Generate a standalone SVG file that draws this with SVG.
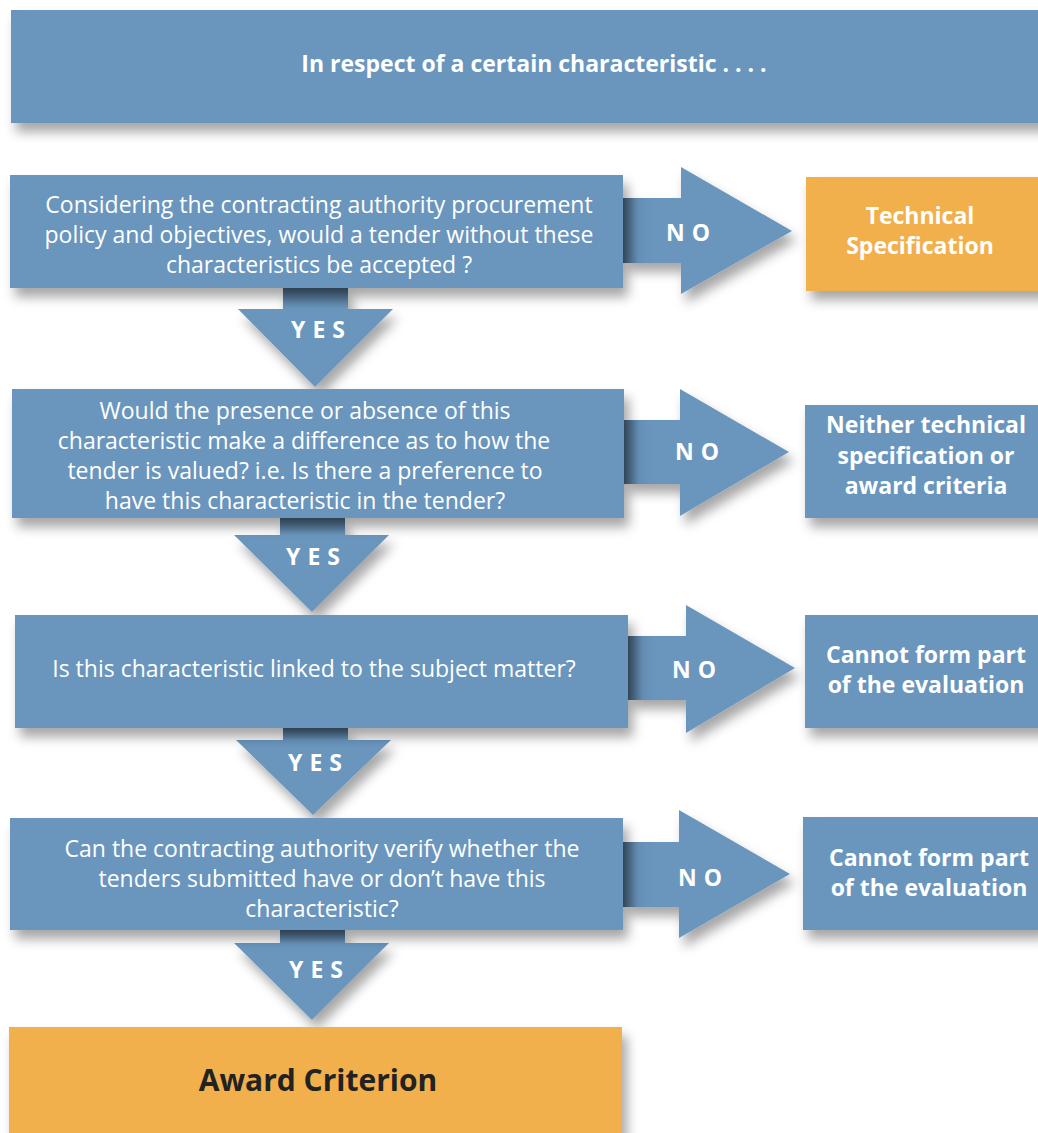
<svg xmlns="http://www.w3.org/2000/svg" width="1038" height="1133" viewBox="0 0 1038 1133">
<defs>
<filter id="sh" x="-10%" y="-20%" width="130%" height="150%">
<feDropShadow dx="5" dy="9" stdDeviation="6" flood-color="#000" flood-opacity="0.35"/>
</filter>
<style>
.b{fill:#6A96BE}
.o{fill:#F1B04C}
.q{font-family:"Open Sans","Liberation Sans",sans-serif;font-size:23px;fill:#fff;text-anchor:middle}
.r{font-family:"Open Sans","Liberation Sans",sans-serif;font-size:23px;font-weight:bold;fill:#fff;text-anchor:middle}
.l{font-family:"Open Sans","Liberation Sans",sans-serif;font-size:23px;font-weight:bold;fill:#fff;text-anchor:middle;letter-spacing:7px}
</style>
<linearGradient id="sx" x1="0" y1="0" x2="1" y2="0">
<stop offset="0" stop-color="#000" stop-opacity="0.35"/>
<stop offset="0.5" stop-color="#000" stop-opacity="0.05"/>
<stop offset="1" stop-color="#000" stop-opacity="0"/>
</linearGradient>
<linearGradient id="sy" x1="0" y1="0" x2="0" y2="1">
<stop offset="0" stop-color="#000" stop-opacity="0.35"/>
<stop offset="1" stop-color="#000" stop-opacity="0"/>
</linearGradient>
</defs>
<rect width="1038" height="1133" fill="#fff"/>

<g id="connectors">
<g filter="url(#sh)">
<path class="b" d="M623 198H681V167L792 231L681 294V263H623Z"/>
<path class="b" d="M624 420H680V389L789 452L680 516V484H624Z"/>
<path class="b" d="M628 636H686V605L795 668L686 733V700H628Z"/>
<path class="b" d="M623 842H679V810L790 874L679 938V907H623Z"/>
<path class="b" d="M283 288V309H238L315 387L393 309H348V288Z"/>
<path class="b" d="M280 518V535H234L312 612L389 535H345V518Z"/>
<path class="b" d="M283 728V740H236L313 815L391 740H348V728Z"/>
<path class="b" d="M280 930V943H234L312 1020L389 943H345V930Z"/>
</g>
<rect x="623" y="198" width="30" height="65" fill="url(#sx)"/>
<rect x="624" y="420" width="30" height="64" fill="url(#sx)"/>
<rect x="628" y="636" width="30" height="64" fill="url(#sx)"/>
<rect x="623" y="842" width="30" height="65" fill="url(#sx)"/>
<rect x="283" y="288" width="65" height="21" fill="url(#sy)"/>
<rect x="280" y="518" width="65" height="17" fill="url(#sy)"/>
<rect x="283" y="728" width="65" height="12" fill="url(#sy)"/>
<rect x="280" y="930" width="65" height="13" fill="url(#sy)"/>
<text class="l" x="691.5" y="232" dominant-baseline="central">NO</text>
<text class="l" x="700.5" y="451" dominant-baseline="central">NO</text>
<text class="l" x="697.5" y="669" dominant-baseline="central">NO</text>
<text class="l" x="703.5" y="877" dominant-baseline="central">NO</text>
<text class="l" x="321.5" y="329" dominant-baseline="central">YES</text>
<text class="l" x="316.5" y="556" dominant-baseline="central">YES</text>
<text class="l" x="318.5" y="762" dominant-baseline="central">YES</text>
<text class="l" x="319.5" y="969" dominant-baseline="central">YES</text>
</g>

<g id="start">
<rect class="b" x="11" y="10" width="1040" height="113" filter="url(#sh)"/>
<text class="r" x="534" y="63" dominant-baseline="central">In respect of a certain characteristic . . . .</text>
</g>

<g id="q1">
<rect class="b" x="10" y="175" width="613" height="113" filter="url(#sh)"/>
<text class="q" x="319" y="204" dominant-baseline="central">Considering the contracting authority procurement</text>
<text class="q" x="319" y="234" dominant-baseline="central">policy and objectives, would a tender without these</text>
<text class="q" x="319" y="264" dominant-baseline="central">characteristics be accepted ?</text>
</g>
<g id="r1">
<rect class="o" x="806" y="177" width="240" height="114" filter="url(#sh)"/>
<text class="r" x="920" y="215" dominant-baseline="central">Technical</text>
<text class="r" x="920" y="245" dominant-baseline="central">Specification</text>
</g>

<g id="q2">
<rect class="b" x="12" y="389" width="612" height="129" filter="url(#sh)"/>
<text class="q" x="305" y="410" dominant-baseline="central">Would the presence or absence of this</text>
<text class="q" x="304" y="440" dominant-baseline="central">characteristic make a difference as to how the</text>
<text class="q" x="305" y="470" dominant-baseline="central">tender is valued? i.e. Is there a preference to</text>
<text class="q" x="305" y="500" dominant-baseline="central">have this characteristic in the tender?</text>
</g>
<g id="r2">
<rect class="b" x="805" y="405" width="240" height="113" filter="url(#sh)"/>
<text class="r" x="926" y="424" dominant-baseline="central">Neither technical</text>
<text class="r" x="926" y="455" dominant-baseline="central">specification or</text>
<text class="r" x="926" y="485" dominant-baseline="central">award criteria</text>
</g>

<g id="q3">
<rect class="b" x="15" y="615" width="613" height="113" filter="url(#sh)"/>
<text class="q" x="314" y="668" dominant-baseline="central">Is this characteristic linked to the subject matter?</text>
</g>
<g id="r3">
<rect class="b" x="805" y="615" width="240" height="113" filter="url(#sh)"/>
<text class="r" x="926" y="654" dominant-baseline="central">Cannot form part</text>
<text class="r" x="926" y="684" dominant-baseline="central">of the evaluation</text>
</g>

<g id="q4">
<rect class="b" x="10" y="818" width="613" height="112" filter="url(#sh)"/>
<text class="q" x="322" y="848" dominant-baseline="central">Can the contracting authority verify whether the</text>
<text class="q" x="322" y="878" dominant-baseline="central">tenders submitted have or don’t have this</text>
<text class="q" x="322" y="908" dominant-baseline="central">characteristic?</text>
</g>
<g id="r4">
<rect class="b" x="803" y="817" width="240" height="113" filter="url(#sh)"/>
<text class="r" x="929" y="857" dominant-baseline="central">Cannot form part</text>
<text class="r" x="929" y="887" dominant-baseline="central">of the evaluation</text>
</g>

<g id="award">
<rect class="o" x="9" y="1027" width="613" height="120" filter="url(#sh)"/>
<text x="318" y="1079" dominant-baseline="central" text-anchor="middle" style="font-family:'Open Sans','Liberation Sans',sans-serif;font-size:30px;font-weight:bold;fill:#222">Award Criterion</text>
</g>
</svg>
